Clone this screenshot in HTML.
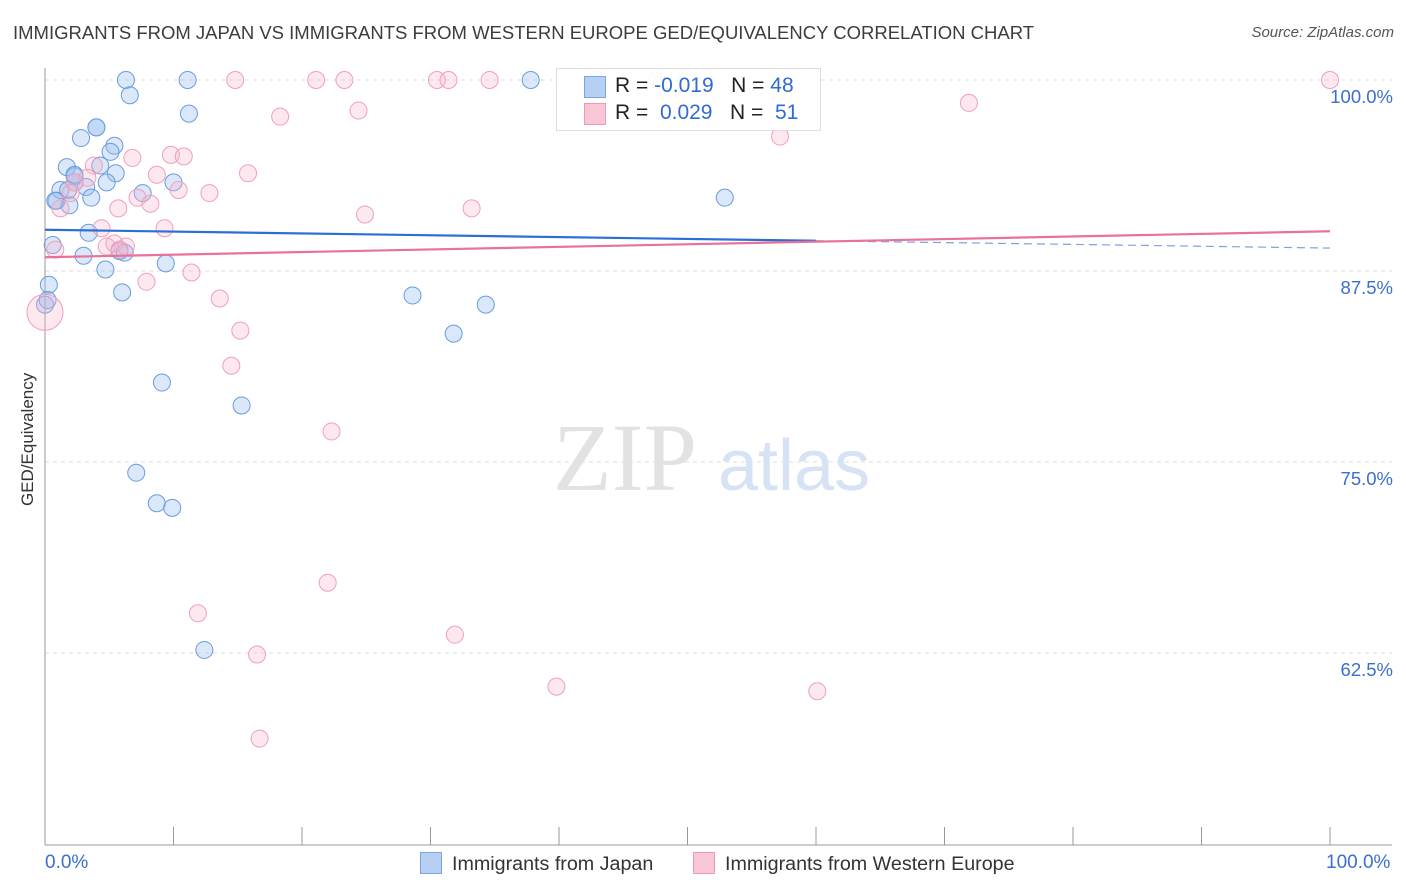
<!DOCTYPE html>
<html><head><meta charset="utf-8">
<style>
body{margin:0;background:#fff;font-family:"Liberation Sans",sans-serif;}
#wrap{position:relative;width:1406px;height:892px;overflow:hidden;}
.t{position:absolute;white-space:nowrap;}
</style></head><body>
<div id="wrap">
<div class="t" style="left:13px;top:22px;font-size:18.5px;color:#3c3c3c;">IMMIGRANTS FROM JAPAN VS IMMIGRANTS FROM WESTERN EUROPE GED/EQUIVALENCY CORRELATION CHART</div>
<div class="t" style="right:12px;top:24px;font-size:15px;color:#555;font-style:italic;">Source: ZipAtlas.com</div>
<svg id="svg" width="1406" height="892" style="position:absolute;left:0;top:0"></svg>
</div>
<script>
const xTicks=[0,10,20,30,40,50,60,70,80,90,100];
const yTicks=[100,87.5,75,62.5];
const yTickLabels=["100.0%","87.5%","75.0%","62.5%"];
const japanX=[6.3,11.1,37.8,43.0,6.6,11.2,2.8,4.0,4.0,5.4,5.1,1.7,4.3,7.6,10.0,5.5,4.8,2.3,3.2,1.2,1.8,3.6,0.9,1.9,52.9,3.4,5.8,6.2,9.4,3.0,4.7,0.3,6.0,28.6,34.3,0.0,31.8,9.1,15.3,7.1,8.7,9.9,12.4,0.6,2.3,2.3,0.8,0.2];
const japanY=[100,100,100,100,99.0,97.8,96.2,96.9,96.9,95.7,95.3,94.3,94.4,92.6,93.3,93.9,93.3,93.7,93.0,92.8,92.8,92.3,92.1,91.8,92.3,90.0,88.8,88.7,88.0,88.5,87.6,86.6,86.1,85.9,85.3,85.3,83.4,80.2,78.7,74.3,72.3,72.0,62.7,89.2,93.3,93.8,92.1,85.6];
const euroX=[14.8,21.1,23.3,30.5,31.4,34.6,47.6,50.0,100,71.9,18.3,24.4,57.2,6.8,9.8,10.8,15.8,3.8,8.7,10.4,12.8,3.3,2.3,7.2,8.2,5.7,24.9,33.2,1.2,4.4,9.3,0.8,4.8,5.4,6.3,5.8,11.4,7.9,13.6,15.2,14.5,22.3,22.0,11.9,31.9,16.5,39.8,60.1,16.7,0,2.0];
const euroY=[100,100,100,100,100,100,100,100,100,98.5,97.6,98.0,96.3,94.9,95.1,95.0,93.9,94.4,93.8,92.8,92.6,93.6,93.3,92.3,91.9,91.6,91.2,91.6,91.6,90.3,90.3,88.9,89.1,89.3,89.1,88.9,87.4,86.8,85.7,83.6,81.3,77.0,67.1,65.1,63.7,62.4,60.3,60.0,56.9,84.8,92.6];
const japanTrend=[90.2,89.0];
const euroTrend=[88.4,90.1];
const X0=45,X1=1330,Y100=80,PX=15.28;
const sx=v=>X0+(X1-X0)*v/100;
const sy=v=>Y100+(100-v)*PX;
const svg=document.getElementById('svg');
const NS='http://www.w3.org/2000/svg';
function mk(tag,attrs){const e=document.createElementNS(NS,tag);for(const k in attrs)e.setAttribute(k,attrs[k]);svg.appendChild(e);return e;}
yTicks.forEach((v,i)=>{
 const g=mk('line',{x1:X0,x2:1392,y1:sy(v),y2:sy(v),stroke:'#ddd','stroke-dasharray':'4,4'});
 
 
 const t=mk('text',{x:1393,y:sy(v)+23,'text-anchor':'end','font-size':'18.5',fill:'#3a6fd0','font-family':'Liberation Sans, sans-serif'});
 t.textContent=yTickLabels[i];
 
 
});
const ax=mk('line',{x1:X0,x2:X0,y1:68,y2:845,stroke:'#999'});


const bx=mk('line',{x1:X0,x2:1392,y1:845,y2:845,stroke:'#999'});


xTicks.forEach(v=>{
 const l=mk('line',{x1:sx(v),x2:sx(v),y1:827,y2:845,stroke:'#999'});
 
 
});
const w1=mk('text',{x:553,y:490,'font-size':'96','font-family':'Liberation Serif, serif',fill:'#e2e2e2'});w1.textContent='ZIP';


const w2=mk('text',{x:718,y:490,'font-size':'72','font-family':'Liberation Sans, sans-serif',fill:'#d6e3f5'});w2.textContent='atlas';


japanX.forEach((x,i)=>{
 const c=mk('circle',{cx:sx(x),cy:sy(japanY[i]),r:8.5,fill:'rgba(150,188,238,0.35)',stroke:'#6a9be0','stroke-width':1});
 
 
});
euroX.forEach((x,i)=>{
 const big=(x===0&&euroY[i]<85);
 const c=mk('circle',{cx:sx(x),cy:sy(euroY[i]),r:big?18:8.5,fill:'rgba(247,180,202,0.3)',stroke:'#efa0ba','stroke-width':1});
 
 
});
const jm=v=>japanTrend[0]+(japanTrend[1]-japanTrend[0])*v/100;
const t1=mk('line',{x1:sx(0),y1:sy(jm(0)),x2:sx(60),y2:sy(jm(60)),stroke:'#2a6fd6','stroke-width':2.2});


const t2=mk('line',{x1:sx(60),y1:sy(jm(60)),x2:sx(100),y2:sy(jm(100)),stroke:'#7aa3e0','stroke-width':1.2,'stroke-dasharray':'8,5'});


const t3=mk('line',{x1:sx(0),y1:sy(euroTrend[0]),x2:sx(100),y2:sy(euroTrend[1]),stroke:'#e8729a','stroke-width':2.2});


</script>
<div class="t" style="left:-22px;top:446px;font-size:17px;color:#333;transform:rotate(-90deg);transform-origin:center;width:100px;text-align:center;">GED/Equivalency</div>
<div class="t" style="left:45px;top:852px;font-size:19px;color:#3a6fd0;">0.0%</div>
<div class="t" style="left:1326px;top:852px;font-size:19px;color:#3a6fd0;">100.0%</div>
<div style="position:absolute;left:556px;top:68px;width:263px;height:61px;border:1px solid #ddd;background:rgba(255,255,255,0.92);font-size:21px;">
 <div style="position:absolute;left:27px;top:7px;width:20px;height:20px;background:#b5d0f3;border:1px solid #7aa6e6;"></div>
 <div class="t" style="left:58px;top:5px;color:#222;">R = <span style="color:#2f6bd0">-0.019</span>&nbsp;&nbsp;&nbsp;N = <span style="color:#2f6bd0">48</span></div>
 <div style="position:absolute;left:27px;top:34px;width:20px;height:20px;background:#f9c6d6;border:1px solid #ee9ab6;"></div>
 <div class="t" style="left:58px;top:32px;color:#222;">R = &nbsp;<span style="color:#2f6bd0">0.029</span>&nbsp;&nbsp;&nbsp;N = &nbsp;<span style="color:#2f6bd0">51</span></div>
</div>
<div style="position:absolute;left:420px;top:852px;font-size:19.7px;color:#333;">
 <span style="display:inline-block;width:20px;height:20px;background:#b5d0f3;border:1px solid #7aa6e6;vertical-align:-4px;margin-right:10px;"></span>Immigrants from Japan</div>
<div style="position:absolute;left:693px;top:852px;font-size:19.7px;color:#333;">
 <span style="display:inline-block;width:20px;height:20px;background:#f9c6d6;border:1px solid #ee9ab6;vertical-align:-4px;margin-right:10px;"></span>Immigrants from Western Europe</div>
</body></html>
